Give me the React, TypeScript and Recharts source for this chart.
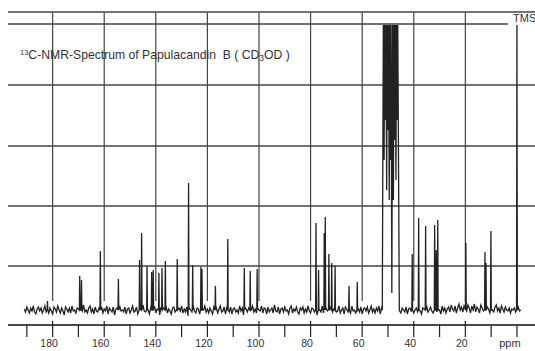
import { LineChart, Line, XAxis, YAxis, ReferenceLine, CartesianGrid } from 'recharts';

// baseline noise, one value every 0.5 ppm from 191 down to -1.5
const noiseStart = 191;
const noiseStep = 0.5;
const noise = [
    1, -2, 3, 0, -3, 2, -1, 4, -2, -4, 1, 3, -1, 2, -3, 0, 4, -2, 1, -3,
    2, -1, -4, 3, 1, -2, 4, 0, -3, 2, -1, -5, 3, 1, -2, 2, -3, 4, -1, 0,
    -3, 2, 1, -4, 3, -1, 5, -2, 0, -3, 2, 4, -2, 1, -4, 3, -1, -2, 2, 0,
    3, -3, 1, -1, 4, -4, 2, 0, -2, 3, -5, 1, 2, -3, 4, -1, 0, -2, 3, -4,
    1, 2, -3, 0, 4, -2, -1, 3, -4, 2, 1, -3, 5, -1, -2, 3, 0, -4, 2, -1,
    -2, 4, -3, 1, 0, -5, 3, -1, 2, -2, 4, -3, 1, -1, -4, 2, 3, -2, 0, -3,
    2, -1, 4, -3, 1, -2, 3, -6, 2, 0, -2, 4, -1, -3, 2, 1, -4, 3, -2, 0,
    4, -2, 1, -3, 2, -1, -4, 3, 0, 2, -3, 1, 4, -2, -1, 3, -4, 2, 0, -2,
    3, -4, 1, 2, -2, 0, -3, 4, -1, 2, -5, 3, 1, -2, 2, -3, 0, 4, -2, 1,
    -3, 2, 0, -1, 4, -3, 2, 1, -4, 3, -2, 0, 2, -3, 5, -1, -2, 3, -4, 1,
    2, -2, 3, -1, 0, -4, 2, 4, -3, 1, -1, 3, -2, -4, 2, 0, 3, -3, 1, -2,
    4, -1, -3, 2, 1, -2, 3, -5, 2, 0, -2, 4, -3, 1, 2, -1, -4, 3, 0, -2,
    1, 3, -2, -1, 4, -3, 0, 2, -4, 3, 1, -2, 2, -3, 4, -1, 0, -3, 2, 1,
    -2, 3, -4, 1, 2, -1, 3, -3, 0, 4, -2, 1, -3, 2, -1, 4, -4, 2, 0, -1,
    3, -2, 1, -4, 2, 0, -3, 3, 1, -2, 4, -1, -3, 2, 0, -2, 3, -4, 1, 2,
    -1, 4, -3, 0, 2, -2, 3, -1, -4, 2, 1, -3, 4, -2, 0, 3, -1, -3, 2, 1,
    -2, 3, 0, -4, 4, -1, 2, -3, 1, 3, -2, 5, 1, -1, 4, -3, 2, 6, 0, 3,
    -2, 4, 1, -1, 5, 2, -3, 4, 0, 6, -2, 3, 1, -3, 5, 2, -1, 4, -2, 3,
    1, -3, 4, 0, -2, 3, 5, -1, 2, -3, 4, 1, -2, 3, 0, -1, 2, -3, 1, 0,
    2, -2, 1, 3, -1, 0,
];

const peakShift = [
    182.0, 169.5, 168.8, 161.5, 154.5, 146.3, 145.5, 143.4, 141.6, 141.0,
    138.8, 137.6, 136.3, 131.7, 127.3, 125.7, 122.5, 122.1, 116.9, 112.1,
    105.7, 103.4, 100.7, 77.9, 76.9, 74.7, 74.3, 72.9, 71.8, 70.5,
    65.1, 61.9, 40.6, 38.1, 35.4, 31.9, 31.3, 30.7, 19.8, 12.4,
    12.0, 10.1, 0,
];
const peakHeight = [
    9, 34, 30, 59, 31, 50, 77, 44, 38, 40,
    37, 42, 49, 51, 127, 45, 43, 41, 24, 71,
    42, 39, 41, 87, 40, 77, 93, 56, 47, 44,
    24, 28, 56, 92, 84, 85, 60, 90, 67, 58,
    47, 79, 285,
];

// CD3OD solvent multiplet (clipped at top)
const solventShift = [
    52.2, 51.8, 51.5, 51.3, 51.0, 50.8, 50.5, 50.3, 50.0, 49.8, 49.5, 49.3, 49.0,
    48.8, 48.5, 48.2, 47.9, 47.7, 47.4, 47.2, 46.9, 46.7, 46.4, 46.2, 45.6,
];
const solventHeight = [
    0, 285, 150, 285, 190, 285, 120, 285, 180, 285, 110, 285, 150,
    285, 17, 285, 110, 285, 170, 285, 130, 285, 190, 285, 0,
];

const gridLevels = [44, 104, 164, 225, 286];
const majorTicks = [180, 160, 140, 120, 100, 80, 60, 40, 20];
const allTicks = [190, 180, 170, 160, 150, 140, 130, 120, 110, 100, 90, 80, 70, 60, 50, 40, 30, 20, 10, 0];

const solventLo = solventShift[solventShift.length - 1];
const solventHi = solventShift[0];

const points: { ppm: number; v: number }[] = [];
noise.forEach((n, i) => {
    const ppm = noiseStart - i * noiseStep;
    if (ppm >= solventLo && ppm <= solventHi) return;
    if (peakShift.some(p => Math.abs(p - ppm) < 0.2)) return;
    points.push({ ppm, v: n });
});
peakShift.forEach((p, i) => {
    points.push({ ppm: p + 0.15, v: 0 }, { ppm: p, v: peakHeight[i] }, { ppm: p - 0.15, v: 0 });
});
solventShift.forEach((p, i) => points.push({ ppm: p, v: solventHeight[i] }));
points.sort((a, b) => b.ppm - a.ppm);

const ink = '#222';
const gridInk = '#444';
const font = '"Liberation Sans", Arial, sans-serif';

function Tick({ x, y, payload }: any) {
    const v = payload.value;
    const major = majorTicks.includes(v);
    return (
        <g>
            <line x1={x} x2={x} y1={y + (major ? -4 : 0)} y2={y + 12} stroke={ink} strokeWidth={1.2} />
            {major && (
                <text x={x - 3.5} y={y + 22} textAnchor="middle" fontSize={10.5} fontFamily={font} fill="#333">
                    {v}
                </text>
            )}
            {v === 0 && (
                <text x={x - 7} y={y + 22} textAnchor="middle" fontSize={11} fontFamily={font} fill="#333">
                    ppm
                </text>
            )}
        </g>
    );
}

export default function App() {
    return (
        <div style={{ position: 'fixed', left: 0, top: 0, width: 535, height: 351, background: '#fff' }}>
            <LineChart width={535} height={351} data={points} margin={{ top: 12, right: 0, bottom: 0, left: 8 }}>
                <CartesianGrid vertical={false} stroke={gridInk} strokeWidth={1.3} strokeDasharray="" />
                <XAxis
                    dataKey="ppm"
                    type="number"
                    domain={[-7, 197.3]}
                    reversed
                    allowDataOverflow
                    ticks={allTicks}
                    interval={0}
                    tick={<Tick />}
                    tickSize={0}
                    tickMargin={0}
                    tickLine={false}
                    height={26}
                    axisLine={{ stroke: ink, strokeWidth: 1.2 }}
                />
                <YAxis hide type="number" domain={[-15, 298]} ticks={gridLevels} interval={0} allowDataOverflow />
                {majorTicks.map(t => (
                    <ReferenceLine
                        key={'v' + t}
                        segment={[{ x: t, y: 9 }, { x: t, y: 297.5 }]}
                        stroke={gridInk}
                        strokeWidth={1.2}
                        ifOverflow="visible"
                    />
                ))}
                <Line
                    type="linear"
                    dataKey="v"
                    stroke={ink}
                    strokeWidth={1.3}
                    dot={false}
                    isAnimationActive={false}
                />
            </LineChart>
            <svg width={535} height={351} style={{ position: 'absolute', left: 0, top: 0, pointerEvents: 'none' }}>
                <text x={20} y={58.5} fontSize={12.2} fontFamily={font} fill="#333">
                    <tspan fontSize={7.5} dy={-4}>13</tspan>
                    <tspan dy={4}>{'C-NMR-Spectrum of Papulacandin\u00a0 B ( CD'}</tspan>
                    <tspan fontSize={8.5} dy={2}>3</tspan>
                    <tspan dy={-2}>OD )</tspan>
                </text>
                <rect x={508} y={14} width={27} height={11} fill="#fff" />
                <text x={513} y={22} fontSize={11} fontFamily={font} fill="#333">
                    TMS
                </text>
            </svg>
        </div>
    );
}
